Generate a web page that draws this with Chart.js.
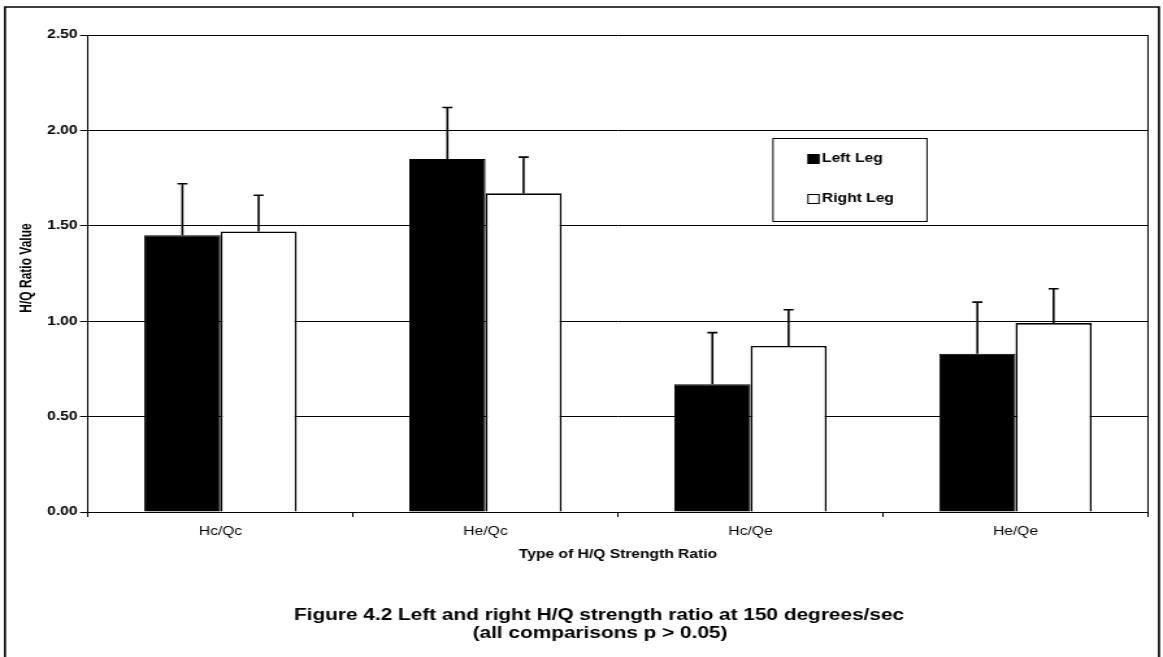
<!DOCTYPE html>
<html>
<head>
<meta charset="utf-8">
<script src="https://cdn.jsdelivr.net/npm/chart.js@4.4.1/dist/chart.umd.min.js"></script>
<style>
  html, body { margin: 0; padding: 0; background: #fff; overflow: hidden; }
  #wrap { width: 1163px; height: 657px; position: relative; }
  canvas { display: block; }
</style>
</head>
<body>
<div id="wrap">
  <!-- the scanned figure is stretched sideways, so the canvas is drawn narrow and shown at full width -->
  <canvas id="myChart" width="895" height="657" style="width:1163px;height:657px"></canvas>
</div>
<script>
// data
const categories = ['Hc/Qc', 'He/Qc', 'Hc/Qe', 'He/Qe'];
const leftLeg = [1.45, 1.85, 0.67, 0.83];
const leftLegSD = [0.27, 0.27, 0.27, 0.27];
const rightLeg = [1.47, 1.67, 0.87, 0.99];
const rightLegSD = [0.19, 0.19, 0.19, 0.18];
const yTicks = [0, 0.5, 1.0, 1.5, 2.0, 2.5];

const FONT = '"Liberation Sans", Arial, sans-serif';
const SX = 1163 / 895; // horizontal stretch of the displayed canvas
const px = x => x / SX; // page x -> canvas x

// white page + outer frame, titles and caption
const framePlugin = {
    id: 'frame',
    beforeDraw(chart) {
        const c = chart.ctx;
        c.save();
        c.fillStyle = '#fff';
        c.fillRect(0, 0, chart.width, chart.height);
        c.strokeStyle = '#000';
        c.lineWidth = 1.6;
        c.beginPath();
        c.moveTo(px(5), 657);
        c.lineTo(px(5), 7);
        c.lineTo(px(1159), 7);
        c.lineTo(px(1159), 657);
        c.stroke();
        c.restore();
    },
    afterDraw(chart) {
        const c = chart.ctx;
        const a = chart.chartArea;
        c.save();
        c.strokeStyle = '#000';
        c.lineWidth = 1;
        c.beginPath();
        c.moveTo(a.right, a.top);
        c.lineTo(a.right, a.bottom);
        c.stroke();

        c.fillStyle = '#000';
        c.textAlign = 'center';
        c.textBaseline = 'middle';
        c.font = 'bold 12px ' + FONT;
        c.fillText('Type of H/Q Strength Ratio', (a.left + a.right) / 2, 555);
        c.font = 'bold 16px ' + FONT;
        c.fillText('Figure 4.2 Left and right H/Q strength ratio at 150 degrees/sec', px(599), 616);
        c.fillText('(all comparisons p > 0.05)', px(600), 634);
        c.translate(px(27), 268);
        c.rotate(-Math.PI / 2);
        c.font = 'bold 12px ' + FONT;
        c.fillText('H/Q Ratio Value', 0, 0);
        c.restore();
    }
};

// upper error bars (mean + SD)
const errorBarPlugin = {
    id: 'errorBars',
    afterDatasetsDraw(chart) {
        const c = chart.ctx;
        const y = chart.scales.y;
        c.save();
        c.strokeStyle = '#000';
        c.lineWidth = 1.6;
        chart.data.datasets.forEach((ds, i) => {
            const meta = chart.getDatasetMeta(i);
            meta.data.forEach((bar, j) => {
                const top = y.getPixelForValue(ds.data[j] + ds.sd[j]);
                c.beginPath();
                c.moveTo(bar.x, bar.y);
                c.lineTo(bar.x, top);
                c.moveTo(bar.x - px(5), top);
                c.lineTo(bar.x + px(5), top);
                c.stroke();
            });
        });
        c.restore();
    }
};

// boxed legend inside the plot
const legendBoxPlugin = {
    id: 'legendBox',
    afterDraw(chart) {
        const c = chart.ctx;
        const bx = px(773), bw = px(154);
        c.save();
        c.fillStyle = '#fff';
        c.fillRect(bx, 138, bw, 83);
        c.strokeStyle = '#000';
        c.lineWidth = 1;
        c.strokeRect(bx, 138.5, bw, 83);
        c.font = 'bold 12px ' + FONT;
        c.textBaseline = 'middle';
        c.textAlign = 'left';
        const rows = [159, 199];
        chart.data.datasets.forEach((ds, i) => {
            c.fillStyle = ds.backgroundColor;
            c.fillRect(px(808), rows[i] - 4.5, px(11), 9);
            c.strokeStyle = '#000';
            c.lineWidth = 1;
            c.strokeRect(px(808), rows[i] - 4.5, px(11), 9);
            c.fillStyle = '#000';
            c.fillText(ds.label, px(822), rows[i]);
        });
        c.restore();
    }
};

const ctx = document.getElementById('myChart').getContext('2d');
const myChart = new Chart(ctx, {
    type: 'bar',
    data: {
        labels: categories,
        datasets: [{
            label: 'Left Leg',
            data: leftLeg,
            sd: leftLegSD,
            backgroundColor: '#000',
            borderColor: '#000',
            borderWidth: 1
        }, {
            label: 'Right Leg',
            data: rightLeg,
            sd: rightLegSD,
            backgroundColor: '#fff',
            borderColor: '#000',
            borderWidth: 1.6
        }]
    },
    options: {
        responsive: false,
        animation: false,
        devicePixelRatio: 1,
        layout: { padding: { left: 0, top: 35, right: 895 - px(1148), bottom: 0 } },
        datasets: { bar: { categoryPercentage: 0.575, barPercentage: 1.0 } },
        plugins: {
            legend: { display: false },
            tooltip: { enabled: false }
        },
        scales: {
            x: {
                afterFit: s => { s.height = 145; },
                grid: { offset: true, drawOnChartArea: false, drawTicks: true, tickLength: 5, color: '#000' },
                border: { color: '#000', width: 1 },
                ticks: { color: '#000', font: { size: 12, family: FONT }, padding: 7 }
            },
            y: {
                min: 0,
                max: 2.5,
                afterFit: s => { s.width = px(88); },
                afterBuildTicks: s => { s.ticks = yTicks.map(v => ({ value: v })); },
                grid: { color: '#000', lineWidth: 1, tickLength: px(8) },
                border: { color: '#000', width: 1 },
                ticks: {
                    color: '#000',
                    padding: 2,
                    font: { size: 12, weight: 'bold', family: FONT },
                    callback: v => v.toFixed(2)
                }
            }
        }
    },
    plugins: [framePlugin, errorBarPlugin, legendBoxPlugin]
});
</script>
</body>
</html>
